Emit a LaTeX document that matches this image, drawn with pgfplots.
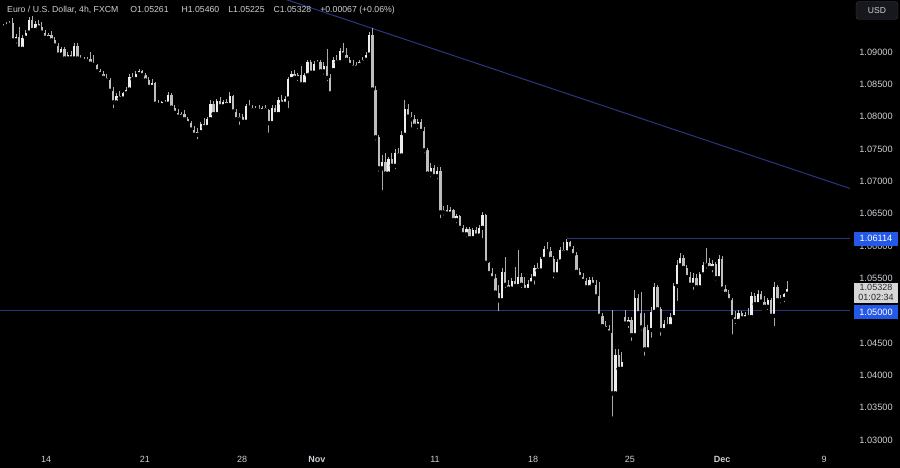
\documentclass[border=0pt]{standalone}
\usepackage{pgfplots}
\pgfplotsset{compat=1.18}
\usepackage{pgfplotstable}
\usepackage{fontspec}
\setmainfont{Liberation Sans}
\definecolor{txt}{RGB}{205,208,215}
\definecolor{lvl}{RGB}{44,54,128}
\definecolor{tvblue}{RGB}{36,88,230}
\definecolor{upc}{RGB}{238,238,238}
\definecolor{dnc}{RGB}{190,190,190}
\definecolor{wick}{RGB}{170,170,170}
\definecolor{btn}{RGB}{22,24,30}
\definecolor{btnb}{RGB}{55,58,68}

\pgfplotstableread{
i o h l c
0 1.0938 1.0944 1.0934 1.0940
1 1.0940 1.0946 1.0936 1.0942
2 1.0942 1.0948 1.0937 1.0945
3 1.0945 1.0953 1.0912 1.0918
4 1.0918 1.0928 1.0910 1.0924
5 1.0924 1.0938 1.0899 1.0905
6 1.0905 1.0926 1.0902 1.0922
7 1.0922 1.0934 1.0918 1.0930
8 1.0930 1.0954 1.0928 1.0950
9 1.0950 1.0956 1.0930 1.0934
10 1.0934 1.0948 1.0930 1.0944
11 1.0944 1.0950 1.0934 1.0938
12 1.0938 1.0946 1.0926 1.0930
13 1.0930 1.0934 1.0918 1.0922
14 1.0922 1.0930 1.0916 1.0927
15 1.0927 1.0932 1.0914 1.0918
16 1.0918 1.0924 1.0904 1.0910
17 1.0910 1.0914 1.0892 1.0896
18 1.0896 1.0908 1.0890 1.0904
19 1.0904 1.0908 1.0886 1.0890
20 1.0890 1.0900 1.0884 1.0896
21 1.0896 1.0902 1.0886 1.0890
22 1.0890 1.0914 1.0888 1.0910
23 1.0910 1.0914 1.0886 1.0890
24 1.0890 1.0895 1.0884 1.0888
25 1.0888 1.0893 1.0882 1.0886
26 1.0886 1.0892 1.0880 1.0890
27 1.0890 1.0900 1.0878 1.0882
28 1.0882 1.0896 1.0876 1.0880
29 1.0880 1.0882 1.0866 1.0870
30 1.0870 1.0874 1.0862 1.0866
31 1.0866 1.0870 1.0856 1.0860
32 1.0860 1.0866 1.0852 1.0856
33 1.0856 1.0860 1.0836 1.0840
34 1.0840 1.0846 1.0810 1.0822
35 1.0822 1.0836 1.0816 1.0832
36 1.0832 1.0840 1.0824 1.0828
37 1.0828 1.0838 1.0822 1.0836
38 1.0836 1.0846 1.0830 1.0842
39 1.0842 1.0866 1.0838 1.0862
40 1.0862 1.0868 1.0852 1.0858
41 1.0858 1.0870 1.0854 1.0866
42 1.0866 1.0874 1.0860 1.0870
43 1.0870 1.0872 1.0860 1.0864
44 1.0864 1.0868 1.0852 1.0856
45 1.0856 1.0862 1.0842 1.0846
46 1.0846 1.0858 1.0840 1.0852
47 1.0852 1.0854 1.0815 1.0820
48 1.0820 1.0826 1.0812 1.0818
49 1.0818 1.0824 1.0812 1.0822
50 1.0822 1.0826 1.0814 1.0820
51 1.0820 1.0838 1.0818 1.0834
52 1.0834 1.0836 1.0810 1.0814
53 1.0814 1.0818 1.0802 1.0806
54 1.0806 1.0812 1.0796 1.0800
55 1.0800 1.0808 1.0794 1.0804
56 1.0804 1.0810 1.0792 1.0796
57 1.0796 1.0800 1.0786 1.0790
58 1.0790 1.0794 1.0776 1.0780
59 1.0780 1.0786 1.0766 1.0772
60 1.0772 1.0782 1.0762 1.0776
61 1.0776 1.0792 1.0772 1.0788
62 1.0788 1.0798 1.0780 1.0784
63 1.0784 1.0800 1.0782 1.0796
64 1.0796 1.0826 1.0794 1.0820
65 1.0820 1.0824 1.0798 1.0804
66 1.0804 1.0828 1.0802 1.0824
67 1.0824 1.0830 1.0812 1.0816
68 1.0816 1.0826 1.0810 1.0822
69 1.0822 1.0828 1.0812 1.0818
70 1.0818 1.0838 1.0814 1.0832
71 1.0832 1.0834 1.0804 1.0808
72 1.0808 1.0812 1.0790 1.0796
73 1.0796 1.0806 1.0784 1.0800
74 1.0800 1.0804 1.0786 1.0792
75 1.0792 1.0820 1.0790 1.0816
76 1.0816 1.0826 1.0810 1.0814
77 1.0814 1.0818 1.0806 1.0810
78 1.0810 1.0816 1.0804 1.0812
79 1.0812 1.0818 1.0806 1.0809
80 1.0809 1.0816 1.0805 1.0813
81 1.0813 1.0818 1.0806 1.0810
82 1.0810 1.0812 1.0772 1.0790
83 1.0790 1.0818 1.0788 1.0814
84 1.0814 1.0818 1.0800 1.0804
85 1.0804 1.0830 1.0802 1.0826
86 1.0826 1.0834 1.0816 1.0820
87 1.0820 1.0832 1.0814 1.0828
88 1.0828 1.0862 1.0810 1.0858
89 1.0858 1.0870 1.0854 1.0866
90 1.0866 1.0872 1.0856 1.0860
91 1.0860 1.0868 1.0852 1.0864
92 1.0864 1.0878 1.0846 1.0850
93 1.0850 1.0868 1.0846 1.0864
94 1.0864 1.0888 1.0860 1.0884
95 1.0884 1.0888 1.0862 1.0868
96 1.0868 1.0886 1.0864 1.0882
97 1.0882 1.0888 1.0878 1.0885
98 1.0885 1.0888 1.0866 1.0870
99 1.0870 1.0884 1.0862 1.0878
100 1.0878 1.0905 1.0852 1.0860
101 1.0860 1.0866 1.0831 1.0836
102 1.0872 1.0892 1.0868 1.0888
103 1.0888 1.0896 1.0880 1.0884
104 1.0884 1.0906 1.0882 1.0902
105 1.0902 1.0914 1.0892 1.0896
106 1.0896 1.0906 1.0883 1.0888
107 1.0888 1.0892 1.0876 1.0880
108 1.0880 1.0888 1.0872 1.0876
109 1.0876 1.0884 1.0870 1.0880
110 1.0880 1.0888 1.0874 1.0884
111 1.0884 1.0892 1.0880 1.0888
112 1.0888 1.0900 1.0884 1.0896
113 1.0896 1.0931 1.0892 1.0926
114 1.0926 1.0937 1.0836 1.0842
115 1.0842 1.0848 1.0760 1.0768
116 1.0768 1.0772 1.0712 1.0720
117 1.0720 1.0740 1.0683 1.0730
118 1.0730 1.0744 1.0706 1.0712
119 1.0712 1.0738 1.0708 1.0734
120 1.0734 1.0744 1.0718 1.0724
121 1.0724 1.0750 1.0716 1.0744
122 1.0744 1.0752 1.0734 1.0740
123 1.0740 1.0778 1.0736 1.0772
124 1.0772 1.0826 1.0768 1.0812
125 1.0812 1.0820 1.0796 1.0800
126 1.0800 1.0808 1.0780 1.0796
127 1.0796 1.0802 1.0782 1.0786
128 1.0786 1.0796 1.0778 1.0792
129 1.0792 1.0796 1.0772 1.0778
130 1.0778 1.0784 1.0740 1.0748
131 1.0748 1.0752 1.0706 1.0712
132 1.0712 1.0728 1.0704 1.0720
133 1.0720 1.0726 1.0702 1.0708
134 1.0708 1.0722 1.0700 1.0716
135 1.0716 1.0722 1.0640 1.0652
136 1.0652 1.0662 1.0644 1.0656
137 1.0656 1.0664 1.0646 1.0650
138 1.0650 1.0660 1.0644 1.0656
139 1.0656 1.0658 1.0634 1.0640
140 1.0640 1.0650 1.0632 1.0646
141 1.0646 1.0648 1.0624 1.0628
142 1.0628 1.0632 1.0612 1.0618
143 1.0618 1.0630 1.0610 1.0626
144 1.0626 1.0630 1.0606 1.0612
145 1.0612 1.0628 1.0608 1.0624
146 1.0624 1.0630 1.0610 1.0616
147 1.0616 1.0632 1.0612 1.0628
148 1.0628 1.0653 1.0609 1.0648
149 1.0648 1.0650 1.0568 1.0574
150 1.0574 1.0576 1.0552 1.0558
151 1.0558 1.0566 1.0544 1.0550
152 1.0550 1.0556 1.0521 1.0528
153 1.0528 1.0540 1.0496 1.0516
154 1.0516 1.0566 1.0512 1.0560
155 1.0560 1.0583 1.0532 1.0540
156 1.0540 1.0547 1.0527 1.0534
157 1.0534 1.0550 1.0530 1.0546
158 1.0546 1.0568 1.0532 1.0538
159 1.0538 1.0594 1.0536 1.0552
160 1.0552 1.0558 1.0532 1.0540
161 1.0540 1.0552 1.0527 1.0532
162 1.0532 1.0547 1.0528 1.0542
163 1.0542 1.0556 1.0536 1.0550
164 1.0550 1.0571 1.0537 1.0566
165 1.0566 1.0574 1.0558 1.0562
166 1.0562 1.0583 1.0560 1.0580
167 1.0580 1.0600 1.0576 1.0596
168 1.0596 1.0606 1.0589 1.0592
169 1.0592 1.0598 1.0576 1.0580
170 1.0580 1.0584 1.0547 1.0556
171 1.0556 1.0580 1.0552 1.0576
172 1.0576 1.0598 1.0574 1.0594
173 1.0594 1.0606 1.0586 1.0590
174 1.0590 1.0611 1.0588 1.0606
175 1.0606 1.0608 1.0590 1.0596
176 1.0596 1.0600 1.0580 1.0586
177 1.0586 1.0590 1.0555 1.0560
178 1.0560 1.0566 1.0547 1.0552
179 1.0552 1.0558 1.0540 1.0546
180 1.0546 1.0550 1.0532 1.0536
181 1.0536 1.0552 1.0530 1.0548
182 1.0548 1.0552 1.0534 1.0540
183 1.0540 1.0547 1.0517 1.0522
184 1.0522 1.0544 1.0486 1.0492
185 1.0492 1.0496 1.0470 1.0476
186 1.0476 1.0484 1.0466 1.0472
187 1.0472 1.0478 1.0462 1.0466
188 1.0466 1.0501 1.0333 1.0372
189 1.0372 1.0440 1.0366 1.0432
190 1.0432 1.0440 1.0404 1.0410
191 1.0410 1.0436 1.0404 1.0420
192 1.0490 1.0501 1.0475 1.0480
193 1.0480 1.0490 1.0470 1.0486
194 1.0486 1.0490 1.0450 1.0462
195 1.0462 1.0532 1.0458 1.0520
196 1.0520 1.0526 1.0490 1.0496
197 1.0496 1.0529 1.0466 1.0474
198 1.0474 1.0496 1.0427 1.0440
199 1.0440 1.0478 1.0436 1.0470
200 1.0470 1.0506 1.0455 1.0498
201 1.0498 1.0543 1.0494 1.0536
202 1.0536 1.0540 1.0496 1.0502
203 1.0502 1.0506 1.0458 1.0470
204 1.0470 1.0486 1.0466 1.0480
205 1.0480 1.0490 1.0473 1.0476
206 1.0476 1.0496 1.0474 1.0490
207 1.0490 1.0543 1.0486 1.0538
208 1.0538 1.0578 1.0512 1.0570
209 1.0570 1.0589 1.0566 1.0582
210 1.0582 1.0586 1.0560 1.0566
211 1.0566 1.0570 1.0547 1.0552
212 1.0552 1.0560 1.0536 1.0540
213 1.0540 1.0558 1.0529 1.0550
214 1.0550 1.0556 1.0530 1.0536
215 1.0536 1.0560 1.0534 1.0556
216 1.0556 1.0575 1.0550 1.0570
217 1.0570 1.0597 1.0562 1.0574
218 1.0574 1.0582 1.0560 1.0566
219 1.0566 1.0578 1.0556 1.0572
220 1.0572 1.0576 1.0543 1.0550
221 1.0550 1.0586 1.0548 1.0580
222 1.0580 1.0584 1.0527 1.0534
223 1.0534 1.0540 1.0520 1.0526
224 1.0526 1.0532 1.0512 1.0516
225 1.0516 1.0520 1.0460 1.0490
226 1.0490 1.0500 1.0476 1.0484
227 1.0484 1.0501 1.0480 1.0496
228 1.0496 1.0500 1.0483 1.0488
229 1.0488 1.0498 1.0482 1.0494
230 1.0494 1.0504 1.0486 1.0490
231 1.0490 1.0529 1.0488 1.0522
232 1.0522 1.0528 1.0504 1.0510
233 1.0510 1.0532 1.0506 1.0526
234 1.0526 1.0530 1.0508 1.0514
235 1.0514 1.0522 1.0500 1.0506
236 1.0506 1.0520 1.0498 1.0516
237 1.0516 1.0520 1.0486 1.0492
238 1.0492 1.0544 1.0473 1.0536
239 1.0536 1.0540 1.0512 1.0516
240 1.0516 1.0524 1.0508 1.0518
241 1.0518 1.0528 1.0510 1.0526
242 1.05261 1.05460 1.05225 1.05328
}\ohlc

\begin{document}
\begin{tikzpicture}
\fill[black] (0,0) rectangle (900pt,468pt);
\begin{axis}[
  at={(0pt,20pt)}, anchor=south west,
  width=850pt, height=448pt, scale only axis,
  xmin=-0.93, xmax=261.4, ymin=1.02876, ymax=1.09805,
  axis line style={draw=none}, tick style={draw=none},
  clip mode=individual,
  ytick={1.03,1.035,1.04,1.045,1.05,1.055,1.06,1.065,1.07,1.075,1.08,1.085,1.09},
  yticklabel pos=right,
  yticklabel style={anchor=center, xshift=26pt, font=\fontsize{9.2}{11}\selectfont, text=txt,
    /pgf/number format/.cd, fixed, fixed zerofill, precision=5, assume math mode=true},
  xtick={13.3,43.8,73.8,96.9,133.3,163.6,193.5,221.9,253.4},
  xticklabels={14,21,28,\textbf{Nov},11,18,25,\textbf{Dec},9},
  xticklabel style={anchor=center, yshift=-11pt, font=\fontsize{9}{11}\selectfont, text=txt},
]
\addplot[lvl, line width=1pt] coordinates {(-0.93,1.05) (261.4,1.05)};
\addplot[lvl, line width=1pt] coordinates {(174,1.06114) (261.4,1.06114)};
\addplot[lvl, line width=1pt] coordinates {(80,1.09936) (261.4,1.06890)};
% wicks
\addplot[only marks, mark=none, error bars/.cd, y dir=plus, y explicit, error mark=none,
  error bar style={line width=0.8pt, wick}]
  table[x=i, y=l, y error plus expr=\thisrow{h}-\thisrow{l}] {\ohlc};
% up bodies
\addplot[only marks, mark=none, restrict expr to domain={\thisrow{c}-\thisrow{o}}{0:1},
  error bars/.cd, y dir=plus, y explicit, error mark=none,
  error bar style={line width=2.3pt, upc}]
  table[x=i, y=o, y error plus expr={max(\thisrow{c}-\thisrow{o},0.00008)}] {\ohlc};
% down bodies
\addplot[only marks, mark=none, restrict expr to domain={\thisrow{o}-\thisrow{c}}{0.000001:1},
  error bars/.cd, y dir=plus, y explicit, error mark=none,
  error bar style={line width=2.3pt, dnc}]
  table[x=i, y=c, y error plus expr={max(\thisrow{o}-\thisrow{c},0.00008)}] {\ohlc};
\coordinate (L1) at (axis cs:261.4,1.06114);
\coordinate (L2) at (axis cs:261.4,1.05);
\coordinate (L3) at (axis cs:261.4,1.05328);
\end{axis}
\node[fill=tvblue, text=white, font=\fontsize{9.2}{11}\selectfont, minimum width=44pt, minimum height=14pt, inner sep=1pt] at ([xshift=26pt]L1) {1.06114};
\node[fill=tvblue, text=white, font=\fontsize{9.2}{11}\selectfont, minimum width=44pt, minimum height=14pt, inner sep=1pt] at ([xshift=26pt,yshift=-1.5pt]L2) {1.05000};
\node[fill={rgb,255:red,214;green,214;blue,214}, text={rgb,255:red,40;green,40;blue,45}, font=\fontsize{9}{10.5}\selectfont, minimum width=44pt, inner sep=1.5pt, align=center, anchor=north] at ([xshift=26pt,yshift=7pt]L3) {1.05328\\01:02:34};
\node[anchor=west, text=txt, font=\fontsize{8.7}{10}\selectfont, inner sep=0pt] at (7pt,458pt) {Euro / U.S. Dollar, 4h, FXCM\hspace{12pt}O1.05261\hspace{13pt}H1.05460\hspace{9pt}L1.05225\hspace{9pt}C1.05328\hspace{9pt}+0.00067 (+0.06\%)};
\node[fill=btn, draw=btnb, rounded corners=3pt, text=txt, font=\fontsize{8.6}{10}\selectfont, minimum width=42pt, minimum height=18pt] at (877pt,457.5pt) {USD};
\end{tikzpicture}
\end{document}
